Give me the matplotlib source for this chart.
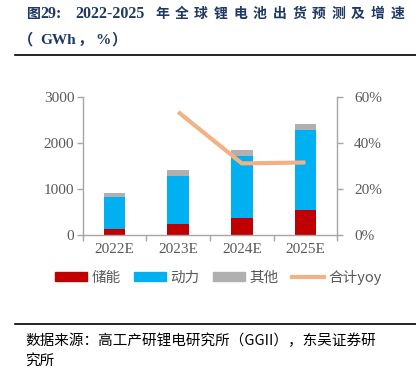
import matplotlib
matplotlib.use("Agg")
import matplotlib.pyplot as plt
from matplotlib.patches import Patch
from matplotlib.lines import Line2D
import numpy as np

years = ["2022E", "2023E", "2024E", "2025E"]
storage = [130, 240, 377, 550]
power = [690, 1050, 1348, 1733]
other = [93, 123, 116, 130]
yoy_years = ["2023E", "2024E", "2025E"]
yoy = [53.6, 31.2, 31.6]

SERIF = ["Liberation Serif", "Noto Sans CJK SC"]
CJK = ["Noto Sans CJK SC", "DejaVu Sans"]
GRAY_TXT = "#595959"
AXC = "#A6A6A6"
NAVY = "#1F3864"

fig = plt.figure(figsize=(4.16, 3.68), dpi=100)
ax = fig.add_axes([0.1988, 0.3614, 0.612, 0.3742])
ax2 = ax.twinx()

x = np.arange(len(years))
w = 0.34
b1 = np.array(storage)
b2 = b1 + np.array(power)
ax.bar(x, storage, w, color="#C00000", zorder=2)
ax.bar(x, power, w, bottom=b1, color="#00B0F0", zorder=2)
ax.bar(x, other, w, bottom=b2, color="#B0B0B0", zorder=2)

xi = [years.index(y) for y in yoy_years]
ax2.plot(xi, yoy, color="#F4B183", lw=3, solid_capstyle="butt", zorder=3)

ax.set_xlim(-0.5, 3.5)
ax.set_ylim(0, 3000)
ax.set_yticks([0, 1000, 2000, 3000])
ax2.set_ylim(0, 60)
ax2.set_yticks([0, 20, 40, 60])
ax2.set_yticklabels([f"{v}%" for v in [0, 20, 40, 60]])

ax.set_xticks(x)
ax.set_xticklabels(years)
ax.set_xticks(np.arange(-0.5, 4, 1), minor=True)
ax.tick_params(axis="x", which="major", length=0, pad=6)
ax.tick_params(axis="x", which="minor", length=4, color=AXC, width=1)

for a in (ax, ax2):
    for s in a.spines.values():
        s.set_color(AXC)
        s.set_linewidth(1)
    a.spines["top"].set_visible(False)
ax.spines["right"].set_visible(False)
ax2.spines["left"].set_visible(False)
ax2.spines["bottom"].set_visible(False)
ax.tick_params(axis="y", length=4, color=AXC, width=1, pad=2)
ax2.tick_params(axis="y", length=4, color=AXC, width=1, pad=8)
for a in (ax, ax2):
    for lab in a.get_xticklabels() + a.get_yticklabels():
        lab.set_family(SERIF)
        lab.set_fontsize(11)
        lab.set_color(GRAY_TXT)

handles = [
    Patch(color="#C00000", label="储能"),
    Patch(color="#00B0F0", label="动力"),
    Patch(color="#B0B0B0", label="其他"),
    Line2D([0], [0], color="#F4B183", lw=3, label="合计yoy"),
]
leg = fig.legend(handles=handles, loc="center", bbox_to_anchor=(0.525, 0.247), ncol=4,
                 frameon=False, handlelength=2.2, handleheight=0.6, handletextpad=0.3,
                 columnspacing=0.9, prop={"family": CJK, "size": 10.5})
for t in leg.get_texts():
    t.set_color(GRAY_TXT)

# title
ty = 1 - 14 / 368
fig.text(27 / 416, ty, "图", family=CJK, fontsize=10, weight="bold", color=NAVY, va="center")
fig.text(40 / 416, ty, "29:", family=SERIF, fontsize=11.5, weight="bold", color=NAVY, va="center")
fig.text(75 / 416, ty, "2022-2025", family=SERIF, fontsize=11.5, weight="bold", color=NAVY, va="center")
for i, ch in enumerate("年全球锂电池出货预测及增速"):
    fig.text((155 + 19.6 * i) / 416, ty, ch, family=CJK, fontsize=10, weight="bold",
             color=NAVY, va="center")
ty2 = 1 - 40 / 368
for xp, s in [(18, "（"), (40, "GWh"), (78, "，"), (95, "%"), (111, "）")]:
    fig.text(xp / 416, ty2, s, family=SERIF, fontsize=11, weight="bold", color=NAVY, va="center")
fig.add_artist(Line2D([15 / 416, 1], [1 - 54.5 / 368] * 2, color="black", lw=1.2))

# source
fig.add_artist(Line2D([15 / 416, 1], [1 - 324 / 368] * 2, color="black", lw=1.2))
fig.text(25 / 416, 1 - 341 / 368, "数据来源：高工产研锂电研究所（GGII），东吴证券研", family=CJK,
         fontsize=10.5, color="black", va="center")
fig.text(25 / 416, 1 - 361 / 368, "究所", family=CJK, fontsize=10.5, color="black", va="center")

fig.savefig("out.png", dpi=100, facecolor="white")
